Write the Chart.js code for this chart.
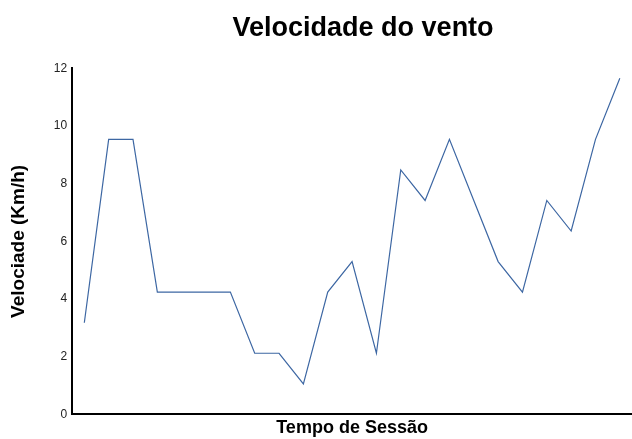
<!DOCTYPE html>
<html>
<head>
<meta charset="utf-8">
<script src="https://cdn.jsdelivr.net/npm/chart.js@4/dist/chart.umd.min.js"></script>
<style>
  html, body { margin: 0; padding: 0; background: #fff; }
  #wrap { width: 632px; height: 439px; }
</style>
</head>
<body>
<div id="wrap"><canvas id="windChart"></canvas></div>
<script>
// leituras da sessão (km/h)
const sessoes = ["1","2","3","4","5","6","7","8","9","10","11","12","13","14","15","16","17","18","19","20","21","22","23"];
const velocidade = [3.18, 9.54, 9.54, 4.24, 4.24, 4.24, 4.24, 2.12, 2.12, 1.06, 4.24, 5.3, 2.12, 8.48, 7.42, 9.54, 7.42, 5.3, 4.24, 7.42, 6.36, 9.54, 11.66];
const yTicks = [0, 2, 4, 6, 8, 10, 12];

// o título original fica um pouco à direita do centro do gráfico
const nudgeTitle = {
  id: "nudgeTitle",
  afterLayout(chart) {
    if (chart.titleBlock) {
      chart.titleBlock.left += 11;
      chart.titleBlock.right += 11;
    }
  }
};

const ctx = document.getElementById("windChart").getContext("2d");
new Chart(ctx, {
  type: "line",
  data: {
    labels: sessoes,
    datasets: [{
      label: "Velocidade",
      data: velocidade,
      borderColor: "#3d67a3",
      borderWidth: 1.2,
      pointRadius: 0,
      tension: 0,
      fill: false
    }]
  },
  options: {
    responsive: true,
    maintainAspectRatio: false,
    animation: false,
    layout: { padding: { top: 12, right: 0, bottom: 0, left: 7 } },
    plugins: {
      legend: { display: false },
      tooltip: { enabled: false },
      title: {
        display: true,
        text: "Velocidade do vento",
        fullSize: false,
        color: "#000",
        font: { family: "Liberation Sans, Arial", size: 27, weight: "bold" },
        padding: { top: 0, bottom: 24 }
      }
    },
    scales: {
      x: {
        offset: true,
        grid: { display: false, drawTicks: false },
        border: { color: "#000", width: 2 },
        ticks: { display: false },
        title: {
          display: true,
          text: "Tempo de Sessão",
          color: "#000",
          font: { family: "Liberation Sans, Arial", size: 18, weight: "bold" },
          padding: { top: 3, bottom: 0 }
        }
      },
      y: {
        min: 0,
        max: 12,
        afterBuildTicks: axis => { axis.ticks = yTicks.map(v => ({ value: v })); },
        grid: { display: false, drawTicks: false },
        border: { color: "#000", width: 2 },
        ticks: {
          color: "#222",
          padding: 5,
          font: { family: "Liberation Sans, Arial", size: 12 }
        },
        title: {
          display: true,
          text: "Velociade (Km/h)",
          color: "#000",
          font: { family: "Liberation Sans, Arial", size: 19, weight: "bold" },
          padding: { top: 0, bottom: 19 }
        }
      }
    }
  },
  plugins: [nudgeTitle]
});
</script>
</body>
</html>
